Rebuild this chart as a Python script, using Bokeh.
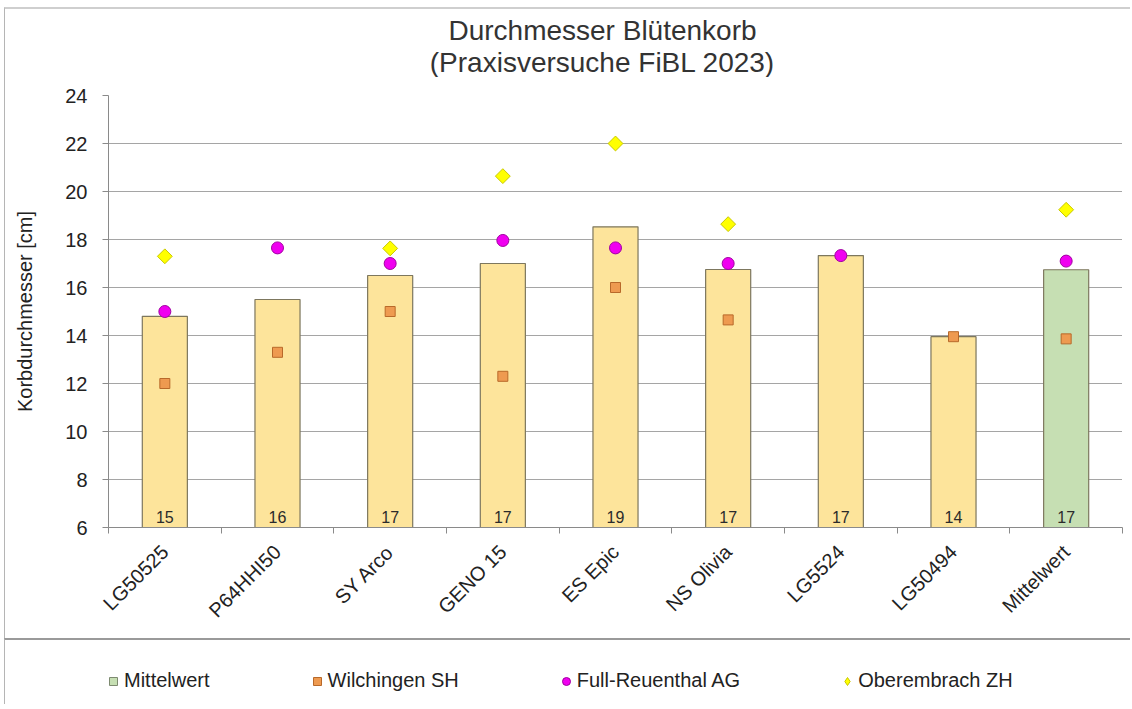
import math
from bokeh.plotting import figure
from bokeh.models import (Range1d, FixedTicker, Legend, LegendItem, ColumnDataSource, Spacer)
from bokeh.layouts import column, row
from bokeh.embed import file_html
from bokeh.resources import INLINE

# ---------------- data ----------------
varieties = ["LG50525", "P64HHI50", "SY Arco", "GENO 15", "ES Epic",
             "NS Olivia", "LG5524", "LG50494", "Mittelwert"]
bar_means = [14.8, 15.5, 16.5, 17.0, 18.53, 16.75, 17.33, 13.95, 16.74]
wilchingen = [12.0, 13.3, 15.0, 12.3, 16.0, 14.65, None, 13.95, 13.86]
full_reuenthal = [15.0, 17.65, 17.0, 17.96, 17.65, 17.0, 17.33, None, 17.1]
oberembrach = [17.3, None, 17.63, 20.64, 22.0, 18.64, None, None, 19.24]
y_ticks = [6, 8, 10, 12, 14, 16, 18, 20, 22, 24]
title_lines = ["Durchmesser Blütenkorb", "(Praxisversuche FiBL 2023)"]

FONT = "Liberation Sans"
Y_MIN, Y_MAX = 6, 24
W = 1126

idx = list(range(len(varieties)))
bar_colors = ["#FDE49B"] * (len(varieties) - 1) + ["#C6DFB3"]
bar_labels = [str(int(math.floor(v + 0.5))) for v in bar_means]

SQ = dict(marker="square", fill_color="#EE9A50", line_color="#B8692A", line_width=1)
CI = dict(marker="circle", fill_color="#F000F0", line_color="#A000A0", line_width=1)
DI = dict(marker="square", angle=math.pi / 4, fill_color="#FFFF00",
          line_color="#C8C800", line_width=1)
LEFT_BORDER = "1px solid #b5b5b5"


def blank(height, top_border):
    f = figure(width=W, height=height, x_range=Range1d(0, 1), y_range=Range1d(0, 1),
               output_backend="svg", toolbar_location=None, min_border=0,
               x_axis_location=None, y_axis_location=None)
    f.styles = {"border-top": top_border, "border-left": LEFT_BORDER}
    f.outline_line_color = None
    f.xgrid.visible = False
    f.ygrid.visible = False
    return f


# ---------------- title strip ----------------
ttl = blank(70, "2px solid #cfcfcf")
ttl.text(x=[0.5, 0.5], y=[0.5, 0.5], text=title_lines, x_offset=-13,
         y_offset=[-14, 18], text_align="center", text_baseline="middle",
         text_font={"value": FONT}, text_font_size="28px", text_color="#333333")

# ---------------- main chart ----------------
p = figure(width=W, height=561,
           x_range=Range1d(-0.5, len(varieties) - 0.5),
           y_range=Range1d(Y_MIN, Y_MAX),
           output_backend="svg", toolbar_location=None,
           min_border_left=103, min_border_right=9,
           min_border_top=18, min_border_bottom=111)
p.styles = {"border-left": LEFT_BORDER}
p.outline_line_color = None
p.background_fill_color = "white"
p.border_fill_color = "white"

src = ColumnDataSource(dict(x=idx, top=bar_means, color=bar_colors, lab=bar_labels,
                            base=[Y_MIN] * len(idx)))
p.vbar(x="x", top="top", bottom="base", width=0.4, fill_color="color",
       line_color="#7d775e", line_width=1.2, source=src)
p.text(x="x", y="base", text="lab", source=src, text_align="center",
       text_baseline="bottom", y_offset=-5, text_font_size="16px",
       text_color="#2b2b2b", text_font={"value": FONT})


def pts(vals):
    xs = [i for i, v in zip(idx, vals) if v is not None]
    ys = [v for v in vals if v is not None]
    return xs, ys


xs, ys = pts(wilchingen)
p.scatter(xs, ys, size=10, **SQ)
xs, ys = pts(full_reuenthal)
p.scatter(xs, ys, size=12, **CI)
xs, ys = pts(oberembrach)
p.scatter(xs, ys, size=10.5, **DI)

# y axis
p.yaxis.ticker = FixedTicker(ticks=y_ticks)
p.yaxis.axis_label = "Korbdurchmesser [cm]"
p.yaxis.axis_label_text_font = FONT
p.yaxis.axis_label_text_font_size = "20px"
p.yaxis.axis_label_text_font_style = "normal"
p.yaxis.axis_label_text_color = "#222222"
p.yaxis.axis_label_standoff = 26
p.yaxis.major_label_text_font = FONT
p.yaxis.major_label_text_font_size = "20px"
p.yaxis.major_label_text_color = "#222222"
p.yaxis.major_label_standoff = 15
p.yaxis.axis_line_color = "#8a8a8a"
p.yaxis.major_tick_line_color = "#8a8a8a"
p.yaxis.major_tick_out = 6
p.yaxis.major_tick_in = 0
p.yaxis.minor_tick_line_color = None

# x axis
p.xaxis.ticker = FixedTicker(ticks=idx, minor_ticks=[i - 0.5 for i in range(len(idx) + 1)])
p.xaxis.major_label_overrides = {i: v for i, v in zip(idx, varieties)}
p.xaxis.major_label_orientation = math.pi / 4
p.xaxis.major_label_text_font = FONT
p.xaxis.major_label_text_font_size = "20px"
p.xaxis.major_label_text_color = "#222222"
p.xaxis.major_label_standoff = 15
p.xaxis.axis_line_color = "#8a8a8a"
p.xaxis.major_tick_line_color = None
p.xaxis.minor_tick_line_color = "#8a8a8a"
p.xaxis.minor_tick_out = 6
p.xaxis.minor_tick_in = 0

p.xgrid.grid_line_color = None
p.ygrid.grid_line_color = "#4a4a4a"
p.ygrid.grid_line_dash = "1 1"
p.ygrid.grid_line_width = 1

# ---------------- legend strip ----------------
lg = blank(66, "2px solid #9a9a9a")
off = [-10]
r0 = lg.scatter(x=off, y=off, marker="square", size=10, fill_color="#C6DFB3",
                line_color="#7d8a70", line_width=1)
r1 = lg.scatter(x=off, y=off, size=10, **SQ)
r2 = lg.scatter(x=off, y=off, size=10, **CI)
r3 = lg.scatter(x=off, y=off, size=10, marker="diamond", fill_color="#FFFF00",
                line_color="#C8C800", line_width=1)
legend = Legend(items=[LegendItem(label="Mittelwert", renderers=[r0]),
                       LegendItem(label="Wilchingen SH", renderers=[r1]),
                       LegendItem(label="Full-Reuenthal AG", renderers=[r2]),
                       LegendItem(label="Oberembrach ZH", renderers=[r3])],
                orientation="horizontal", location=(-5, 14), spacing=97,
                glyph_width=20, glyph_height=22, label_standoff=1,
                padding=0, margin=0, border_line_color=None,
                background_fill_alpha=0,
                label_text_font=FONT, label_text_font_size="20px",
                label_text_color="#222222")
lg.add_layout(legend)

layout = row(Spacer(width=4), column(Spacer(height=7), ttl, p, lg))
open("out.html", "w").write(file_html(layout, INLINE))
